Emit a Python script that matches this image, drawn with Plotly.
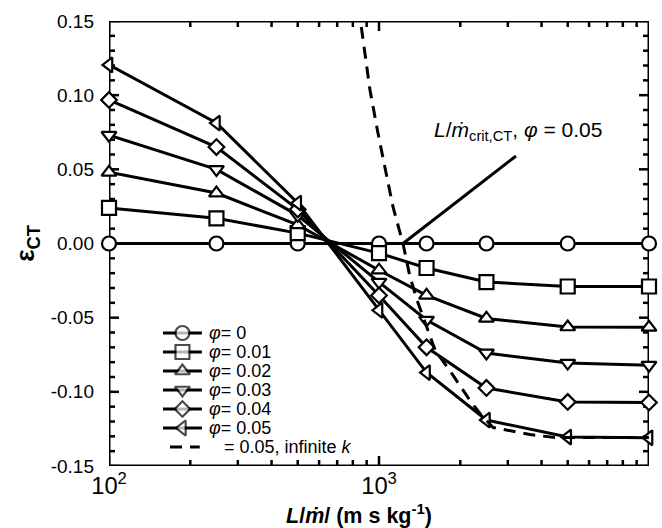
import math
import plotly.graph_objects as go

# ---------------- data ----------------
x_vals = [100, 250, 500, 1000, 1500, 2500, 5000, 10000]

phi_labels = ["0", "0.01", "0.02", "0.03", "0.04", "0.05"]
eps_phi_000 = [0.0, 0.0, 0.0, 0.0, 0.0, 0.0, 0.0, 0.0]
eps_phi_001 = [0.024, 0.017, 0.007, -0.0065, -0.0165, -0.026, -0.029, -0.029]
eps_phi_002 = [0.048, 0.034, 0.0125, -0.018, -0.035, -0.0505, -0.0563, -0.0565]
eps_phi_003 = [0.073, 0.050, 0.019, -0.026, -0.0516, -0.0738, -0.0806, -0.082]
eps_phi_004 = [0.0968, 0.065, 0.023, -0.035, -0.070, -0.0974, -0.1068, -0.1072]
eps_phi_005 = [0.1204, 0.0812, 0.0273, -0.045, -0.087, -0.119, -0.1305, -0.131]

# phi = 0.05 with infinite k (dashed)
x_inf = [860, 926, 991, 1071, 1127, 1197, 1227, 1303, 1383, 1612, 1878,
         2172, 2365, 2644, 3622, 4483, 6871, 10000]
eps_inf = [0.146, 0.1035, 0.0745, 0.0448, 0.0246, 0.0071, 0.0, -0.0226,
           -0.0381, -0.0718, -0.0887, -0.1058, -0.1146, -0.124, -0.1288,
           -0.1308, -0.1308, -0.1308]
inf_label = "= 0.05, infinite <i>k</i>"

# leader line of the L/m_crit annotation
crit_x = [1227, 3217]
crit_y = [0.0, 0.059]
crit_text = "<i>L</i>/<i>ṁ</i><sub>crit,CT</sub>, <i>φ</i> = 0.05"

x_title = "<b><i>L</i>/<i>ṁ</i>/ (m s kg<sup>-1</sup>)</b>"
y_title = "<b>ε<sub>CT</sub></b>"

y_tickvals = [-0.15, -0.10, -0.05, 0.0, 0.05, 0.10, 0.15]
y_ticktext = ["-0.15", "-0.10", "-0.05", "0.00", "0.05", "0.10", "0.15"]

series = [eps_phi_000, eps_phi_001, eps_phi_002, eps_phi_003, eps_phi_004, eps_phi_005]
symbols = ["circle", "square", "triangle-up", "triangle-down", "diamond", "triangle-left"]
msizes = [14, 14, 13, 13, 12, 13]

FONT = "Liberation Sans, Arial, sans-serif"
X_RANGE = [2, 4]
Y_RANGE = [-0.15, 0.15]
PLOT_W, PLOT_H = 540, 445          # plot-area size in px (662-109-13, 528-21-62)


def frac_to_x(frac):
    """plot-area fraction -> data x (log axis)"""
    return 10 ** (X_RANGE[0] + frac * (X_RANGE[1] - X_RANGE[0]))


def frac_to_y(frac):
    return Y_RANGE[0] + frac * (Y_RANGE[1] - Y_RANGE[0])


fig = go.Figure()

# ---------------- frame and inside ticks (axis decoration) ----------------
def px_dx(px):   # pixels -> decades
    return px * (X_RANGE[1] - X_RANGE[0]) / PLOT_W


def px_dy(px):   # pixels -> y units
    return px * (Y_RANGE[1] - Y_RANGE[0]) / PLOT_H


xmin, xmax = 10 ** X_RANGE[0], 10 ** X_RANGE[1]
ymin, ymax = Y_RANGE
fx, fy = [], []
for d in range(X_RANGE[0], X_RANGE[1]):
    for m in range(1, 10):
        v = m * 10 ** d
        L = 10 if m == 1 else 6
        fx += [v, v, None, v, v, None]
        fy += [ymin, ymin + px_dy(L), None, ymax, ymax - px_dy(L), None]
n_minor = int(round((ymax - ymin) / 0.01))
for i in range(n_minor + 1):
    v = ymin + i * 0.01
    major = any(abs(v - t) < 1e-9 for t in y_tickvals)
    L = 10 if major else 6
    fx += [xmin, 10 ** (X_RANGE[0] + px_dx(L)), None,
           xmax, 10 ** (X_RANGE[1] - px_dx(L)), None]
    fy += [v, v, None, v, v, None]
fig.add_trace(go.Scatter(x=fx, y=fy, mode="lines",
                         line=dict(color="black", width=2.5),
                         cliponaxis=False, showlegend=False, hoverinfo="skip"))
fig.add_trace(go.Scatter(x=[xmin, xmax, xmax, xmin, xmin],
                         y=[ymin, ymin, ymax, ymax, ymin], mode="lines",
                         line=dict(color="black", width=3),
                         cliponaxis=False, showlegend=False, hoverinfo="skip"))

# ---------------- data series ----------------
for vals, sym, ms, lab in zip(series, symbols, msizes, phi_labels):
    fig.add_trace(go.Scatter(
        x=x_vals, y=vals, mode="lines+markers", name="φ = " + lab,
        line=dict(color="black", width=3),
        marker=dict(symbol=sym, size=ms, color="white",
                    line=dict(color="black", width=2.2)),
        cliponaxis=False, showlegend=False))

fig.add_trace(go.Scatter(
    x=x_inf, y=eps_inf, mode="lines", name="infinite k",
    line=dict(color="black", width=3, dash="12px,8px"),
    showlegend=False))

fig.add_trace(go.Scatter(
    x=crit_x, y=crit_y, mode="lines", line=dict(color="black", width=3),
    showlegend=False, hoverinfo="skip"))

# ---------------- manual legend (key positions as plot-area fractions) ----------------
leg_y = [0.2989, 0.2562, 0.2135, 0.1708, 0.1281, 0.0854, 0.0427]
key_x = [0.100, 0.136, 0.172]
for k, (sym, ms, lab) in enumerate(zip(symbols, msizes, phi_labels)):
    fig.add_trace(go.Scatter(
        x=[frac_to_x(f) for f in key_x], y=[frac_to_y(leg_y[k])] * 3,
        mode="lines+markers", line=dict(color="black", width=3),
        marker=dict(symbol=sym, size=[0, ms, 0], color="white",
                    line=dict(color="black", width=[0, 2.2, 0])),
        cliponaxis=False, showlegend=False, hoverinfo="skip"))
    fig.add_annotation(x=0.1815, y=leg_y[k], xref="paper", yref="paper",
                       text="<i>φ</i>= " + lab, showarrow=False,
                       xanchor="left", yanchor="middle",
                       font=dict(family=FONT, size=18, color="black"))
fig.add_trace(go.Scatter(
    x=[frac_to_x(0.113), frac_to_x(0.168)], y=[frac_to_y(leg_y[6])] * 2,
    mode="lines", line=dict(color="black", width=3, dash="12px,8px"),
    showlegend=False, hoverinfo="skip"))
fig.add_annotation(x=0.209, y=leg_y[6], xref="paper", yref="paper",
                   text=inf_label, showarrow=False, xanchor="left",
                   yanchor="middle", font=dict(family=FONT, size=18, color="black"))

# annotation text
fig.add_annotation(x=3.196, y=0.0759, xref="x", yref="y", text=crit_text,
                   showarrow=False, xanchor="left", yanchor="middle",
                   font=dict(family=FONT, size=21, color="black"))

# x-axis title (sits a little left of centre in the reference)
fig.add_annotation(x=0.463, y=-0.108, xref="paper", yref="paper", text=x_title,
                   showarrow=False, xanchor="center", yanchor="middle",
                   font=dict(family=FONT, size=21.5, color="black"))

fig.update_layout(
    width=662, height=528,
    margin=dict(l=109, r=13, t=21, b=62, autoexpand=False),
    paper_bgcolor="white", plot_bgcolor="white",
    font=dict(family=FONT, color="black"),
    xaxis=dict(type="log", range=X_RANGE, dtick=1, exponentformat="power",
               showline=False, ticks="", showgrid=False, zeroline=False,
               automargin=False,
               tickfont=dict(family=FONT, size=19, color="black"),
               ticklabelstandoff=3),
    yaxis=dict(range=Y_RANGE, tickmode="array", tickvals=y_tickvals,
               ticktext=y_ticktext,
               showline=False, ticks="", showgrid=False, zeroline=False,
               automargin=False,
               tickfont=dict(family=FONT, size=19, color="black"),
               ticklabelstandoff=14,
               title=dict(text=y_title,
                          font=dict(family=FONT, size=26, color="black"),
                          standoff=8)),
    showlegend=False,
)

fig.write_html("out.html")
